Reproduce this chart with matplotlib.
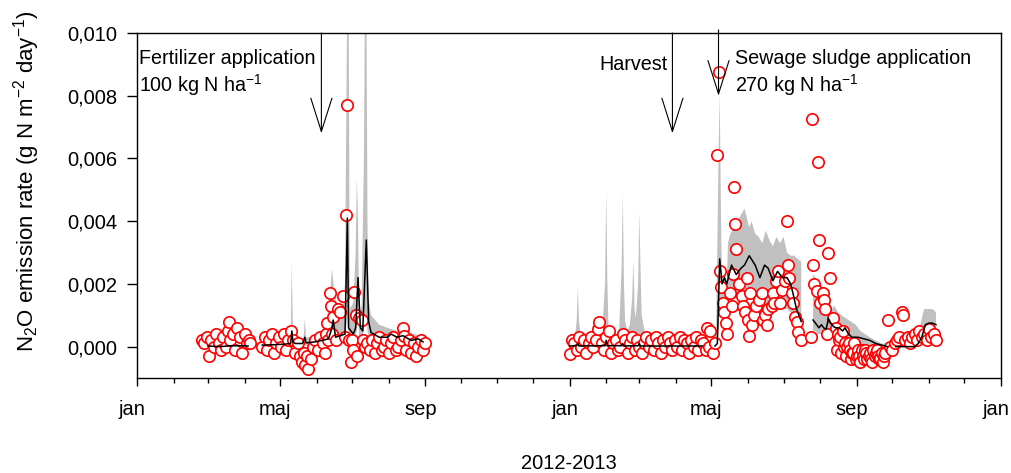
import numpy as np
import matplotlib
matplotlib.use('Agg')
import matplotlib.pyplot as plt
import matplotlib.dates as mdates
from matplotlib.ticker import FuncFormatter
from matplotlib.transforms import ScaledTranslation

plt.rcParams['font.family'] = ['Liberation Sans', 'DejaVu Sans']
plt.rcParams['mathtext.fontset'] = 'custom'
plt.rcParams['mathtext.rm'] = 'Liberation Sans'
plt.rcParams['mathtext.it'] = 'Liberation Sans:italic'
plt.rcParams['mathtext.bf'] = 'Liberation Sans:bold'

# %% Data (day = days since 2012-01-01, flux in g N m-2 day-1)
START = np.datetime64('2012-01-01')

# measured fluxes (red circles)
obs_2012 = [
    (55, 0.0002), (57, 0.0001), (59, 0.0003), (61, -0.0003), (63, 0.0002), (65, 0.0000),
    (67, 0.0004), (69, 0.0001), (71, -0.0001), (73, 0.0003), (75, 0.0000), (77, 0.0005),
    (78, 0.0008), (79, 0.0002), (81, 0.0004), (83, -0.0001), (85, 0.0006), (87, 0.0003),
    (89, -0.0002), (91, 0.0004), (93, 0.0001), (95, 0.0002), (96, 0.0001),
    (106, 0.0000), (108, 0.0003), (110, -0.0001), (112, 0.0002), (114, 0.0004), (116, -0.0002),
    (118, 0.0001), (120, 0.0003), (122, 0.0000), (124, 0.0004), (126, -0.0001), (128, 0.0002),
    (130, 0.0005), (132, 0.0002), (134, -0.0002), (136, 0.0001), (138, -0.0003), (140, -0.0005),
    (141, -0.0002), (142, -0.0006), (144, -0.0003), (145, -0.0007), (147, -0.0004), (149, 0.0000),
    (151, 0.0002), (153, -0.0001), (155, 0.0003), (157, 0.0001), (159, -0.0002), (160, 0.0004),
    (161, 0.00075), (162, 0.0002), (163, 0.0017), (164, 0.0013), (165, 0.0004), (166, 0.00095),
    (168, 0.0002), (170, 0.0012), (172, 0.0011), (174, 0.0016), (176, 0.0003), (177, 0.0042),
    (178, 0.0077), (179, 0.0002), (181, -0.0005), (182, 0.0002), (183, -0.0001), (184, 0.00175),
    (185, 0.0010), (186, -0.0003), (188, 0.0009), (190, 0.00085), (191, 0.0002), (193, 0.0000),
    (195, 0.0001), (197, -0.0001), (199, 0.0002), (201, -0.0002), (203, 0.0001), (205, 0.0003),
    (207, -0.0001), (209, 0.0000), (211, 0.0002), (213, -0.0002), (215, 0.0001), (217, 0.0003),
    (219, -0.0001), (221, 0.0000), (223, 0.0002), (225, 0.0006), (226, 0.00035), (228, -0.0001),
    (230, 0.0002), (232, -0.0002), (234, 0.0001), (236, -0.0003), (238, 0.0000), (240, 0.0002),
    (242, -0.0001), (244, 0.0001),
]

obs_2013 = [
    (366, -0.00025), (368, 0.0002), (370, 0.0001), (372, -0.0001), (374, 0.0003), (376, 0.0000),
    (378, 0.0002), (380, -0.0002), (382, 0.0001), (384, 0.0003), (386, 0.0000), (388, 0.0002),
    (390, 0.00055), (391, 0.00077), (393, 0.0001), (395, -0.0001), (397, 0.0003), (399, 0.0005),
    (401, -0.0002), (403, 0.0001), (405, 0.0002), (407, -0.0001), (409, 0.0000), (411, 0.0004),
    (413, 0.0002), (415, -0.0002), (417, 0.0001), (419, 0.0003), (421, -0.0001), (423, 0.0002),
    (425, 0.0000), (427, -0.0002), (429, 0.0001), (431, 0.0003), (433, 0.0000), (435, 0.0002),
    (437, -0.0001), (439, 0.0003), (441, 0.0001), (443, -0.0002), (445, 0.0002), (447, 0.0000),
    (449, 0.0003), (451, 0.0001), (453, -0.0001), (455, 0.0002), (457, 0.0000), (459, 0.0003),
    (461, -0.0001), (463, 0.0002), (465, 0.0001), (467, -0.0002), (469, 0.0002), (471, 0.0000),
    (473, 0.0003), (475, -0.0001), (477, 0.0002), (479, 0.0001), (481, -0.0001), (482, 0.0006),
    (484, 0.0000), (485, 0.0005), (487, -0.0002), (489, 0.0001),
    (491, 0.0061), (492, 0.00876), (493, 0.0024), (494, 0.0019), (496, 0.0014), (497, 0.0011),
    (498, 0.00076), (499, 0.0004), (502, 0.0017), (503, 0.0013), (504, 0.0023), (505, 0.0051),
    (506, 0.0039), (507, 0.0031), (509, 0.0020), (512, 0.0016), (513, 0.0013), (514, 0.0011),
    (516, 0.0022), (517, 0.00086), (518, 0.00035), (519, 0.0017), (520, 0.0007), (522, 0.0010),
    (524, 0.0013), (526, 0.0015), (529, 0.0017), (530, 0.00086), (531, 0.0010), (533, 0.0007),
    (534, 0.0012), (537, 0.0013), (538, 0.0017), (539, 0.0014), (541, 0.0021), (542, 0.0024),
    (544, 0.0014), (546, 0.0018), (548, 0.0021), (550, 0.0040), (551, 0.0026), (552, 0.0022),
    (554, 0.0017), (555, 0.0014), (557, 0.00096), (558, 0.0008), (559, 0.00048), (562, 0.0002),
    (570, 0.0003), (571, 0.00726), (572, 0.0026), (573, 0.0020), (575, 0.00176), (576, 0.0059),
    (577, 0.0034), (578, 0.0014), (580, 0.0017), (581, 0.0015), (582, 0.0012), (584, 0.0004),
    (585, 0.0030), (586, 0.0022), (589, 0.0009), (591, 0.0006), (592, -0.0001), (593, 0.0004),
    (594, 0.0002), (595, 0.0003), (596, -0.0002), (597, 0.0005), (598, 0.0000), (599, 0.0001),
    (600, -0.0003), (601, 0.0000), (602, 0.0001), (603, -0.0001), (604, -0.0004), (605, -0.0002),
    (606, -0.0002), (607, 0.0001), (608, -0.0004), (609, -0.0003), (610, -0.0001), (611, -0.0003),
    (612, -0.0005), (613, -0.0001), (614, -0.0003), (615, -0.0004), (616, -0.0001), (617, -0.0002),
    (618, -0.0004), (619, -0.0003), (620, -0.0002), (621, -0.0004), (622, -0.0005), (623, -0.0001),
    (624, -0.0003), (625, -0.0002), (626, -0.0001), (627, -0.0003), (628, -0.0004), (629, -0.00035),
    (630, -0.0002), (631, -0.0005), (632, -0.0003), (633, -0.0002), (635, 0.00086), (637, 0.0000),
    (639, -0.0001), (641, 0.0001), (643, 0.0002), (645, 0.0003), (647, 0.0011), (648, 0.0010),
    (650, 0.0002), (652, 0.0003), (654, 0.0001), (656, 0.0003), (658, 0.0004), (660, 0.0002),
    (662, 0.0005), (664, 0.0003), (666, 0.0004), (668, 0.0002), (670, 0.00055), (672, 0.0003),
    (674, 0.0004), (676, 0.0002),
]

# modelled median (black line), nan = gap
model_days = [60, 70, 80, 94, 100,
              106, 115, 125, 130, 131, 132, 134, 140, 142, 143, 150, 157, 162, 165, 166,
              168, 172, 176, 178, 179, 181, 183, 185, 187, 189, 191, 194, 196, 198, 205,
              212, 215, 220, 225, 232, 238, 242, 300,
              366, 372, 373, 374, 396, 397, 398, 410, 411, 412, 424, 425, 426, 440, 460,
              478, 483, 489, 491, 493, 495, 497, 499, 503, 507, 511, 514, 518, 523, 527,
              531, 534, 538, 542, 546, 550, 553, 555, 558, 562, 567,
              572, 575, 577, 579, 581, 583, 585, 587, 589, 591, 594, 597, 599, 602, 605,
              610, 615, 620, 625, 630, 635, 638, 642, 650, 658, 661, 664, 667, 670, 673, 676]
model_vals = [0.00002, 0.0, 0.00003, 0.00002, np.nan,
              0.00005, 0.00006, 0.00008, 0.0001, 0.0005, 0.00015, 0.0001, 0.0001, 0.0003, 0.00012,
              0.00015, 0.0002, 0.00025, 0.0006, 0.00085,
              0.0003, 0.00035, 0.0004, 0.0041, 0.0006, 0.0005, 0.0004, 0.0006, 0.0022, 0.0006,
              0.0005, 0.0034, 0.0008, 0.00045, 0.0003,
              0.0003, 0.0004, 0.0003, 0.00035, 0.0002, 0.00025, 0.00015, np.nan,
              0.00002, 0.00003, 0.0001, 0.00002, 0.00003, 0.0002, 0.00003, 0.00003, 0.0001, 0.00002,
              0.00003, 0.0001, 0.00002, 0.00002, 0.00002,
              0.00002, np.nan, 0.00002, 0.0001, 0.0028, 0.0020, 0.0022, 0.0020, 0.0026, 0.0023,
              0.0025, 0.0026, 0.0029, 0.0026, 0.0022,
              0.0026, 0.0025, 0.0021, 0.0024, 0.0022, 0.0022, 0.0020, 0.0017, 0.0012, 0.0008, np.nan,
              0.00085, 0.0007, 0.0006, 0.0007, 0.0006, 0.00055, 0.0009, 0.00075, 0.00065, 0.0006,
              0.0006, 0.0005, 0.0006, 0.0004, 0.0003,
              0.0003, 0.00025, 0.0002, 0.0001, 0.00005, 0.0, np.nan, 0.0, 0.0, 0.0, 0.0001, 0.0003,
              0.0007, 0.00075, 0.00075, 0.0007]

# model uncertainty band (grey): (day, lower, upper)
band = [
    (106, 0.0, 0.0001), (120, 0.0, 0.00015), (128, 0.0, 0.0002), (130, 0.00005, 0.0002),
    (131, 0.0002, 0.0027), (132, 0.00005, 0.0003), (140, 0.00005, 0.0002), (141, 0.00005, 0.0003),
    (142, 0.0001, 0.0009), (143, 0.00005, 0.0003), (150, 0.00005, 0.0003), (157, 0.0001, 0.0005),
    (161, 0.0001, 0.0008), (163, 0.0002, 0.0015), (165, 0.0003, 0.0025), (167, 0.0002, 0.0017),
    (170, 0.0002, 0.0012), (174, 0.0002, 0.0012), (176, 0.0003, 0.0020), (178, 0.0010, 0.0120),
    (179, 0.0004, 0.0120), (180, 0.0003, 0.0012), (183, 0.0003, 0.0014), (185, 0.0003, 0.0030),
    (186, 0.0005, 0.0054), (187, 0.0010, 0.0040), (188, 0.0003, 0.0010), (190, 0.0003, 0.0013),
    (192, 0.0005, 0.0060), (193, 0.0010, 0.0120), (194, 0.0010, 0.0120), (195, 0.0005, 0.0040),
    (196, 0.0003, 0.0015), (198, 0.0002, 0.0010), (205, 0.0001, 0.0007), (212, 0.0001, 0.0006),
    (220, 0.0001, 0.0005), (228, 0.0001, 0.0005), (235, 0.0001, 0.0004), (242, 0.0, 0.0003),
    (300, np.nan, np.nan),
    (366, 0.0, 0.0001), (370, 0.0, 0.0002), (372, 0.0, 0.0008), (373, 0.0, 0.0019),
    (374, 0.0, 0.0008), (376, 0.0, 0.0002), (385, 0.0, 0.0002), (392, 0.0, 0.0003),
    (394, 0.0, 0.0008), (396, 0.0, 0.0020), (397, 0.0, 0.0050), (398, 0.0, 0.0020),
    (399, 0.0, 0.0005), (401, 0.0, 0.0003), (405, 0.0, 0.0003), (408, 0.0, 0.0006),
    (410, 0.0, 0.0025), (411, 0.0, 0.0049), (412, 0.0, 0.0020), (413, 0.0, 0.0008),
    (415, 0.0, 0.0005), (417, 0.0, 0.0007), (419, 0.0, 0.0016), (420, 0.0, 0.0028),
    (421, 0.0, 0.0012), (422, 0.0, 0.0009), (424, 0.0, 0.0020), (425, 0.0, 0.0043),
    (426, 0.0, 0.0025), (427, 0.0, 0.0010), (428, 0.0, 0.0008), (430, 0.0, 0.0004),
    (440, 0.0, 0.0002), (455, 0.0, 0.0003), (470, 0.0, 0.0002), (480, 0.0, 0.0002),
    (488, 0.0, 0.0002),
    (490, 0.0, 0.0004), (492, 0.0005, 0.0060), (493, 0.0015, 0.0081), (494, 0.0014, 0.0045),
    (495, 0.0013, 0.0018), (497, 0.0014, 0.0024), (499, 0.0013, 0.0020), (500, 0.0014, 0.0033),
    (502, 0.0015, 0.0036), (505, 0.0015, 0.0038), (508, 0.0016, 0.0040), (511, 0.0016, 0.0042),
    (514, 0.0017, 0.0044), (516, 0.0016, 0.0041), (518, 0.0016, 0.0038), (520, 0.0015, 0.0040),
    (523, 0.0015, 0.0036), (526, 0.0014, 0.0035), (529, 0.0014, 0.0033), (532, 0.0014, 0.0037),
    (535, 0.0013, 0.0034), (538, 0.0012, 0.0032), (541, 0.0013, 0.0035), (544, 0.0013, 0.0033),
    (547, 0.0012, 0.0035), (550, 0.0012, 0.0030), (553, 0.0011, 0.0029), (556, 0.0009, 0.0029),
    (559, 0.0006, 0.0028), (562, 0.0004, 0.0027), (567, np.nan, np.nan),
    (572, 0.0005, 0.0023), (574, 0.0005, 0.0022), (576, 0.0004, 0.0019), (578, 0.0004, 0.0015),
    (580, 0.0004, 0.0016), (582, 0.0003, 0.0012), (584, 0.0003, 0.0014), (586, 0.0005, 0.0015),
    (588, 0.0004, 0.0012), (590, 0.0003, 0.0013), (593, 0.0003, 0.0011), (596, 0.0002, 0.0010),
    (600, 0.0002, 0.0009), (604, 0.0001, 0.0008), (608, 0.0001, 0.0007), (612, 0.0, 0.0005),
    (616, 0.0, 0.0004), (620, 0.0, 0.0003), (625, 0.0, 0.0002), (630, 0.0, 0.0001),
    (635, 0.0, 0.0001), (638, np.nan, np.nan), (642, 0.0, 0.0001), (650, 0.0, 0.0002),
    (658, 0.0, 0.0003), (661, 0.0, 0.0004), (664, 0.0001, 0.0009), (666, 0.0003, 0.0012),
    (670, 0.0004, 0.0012), (673, 0.0004, 0.0012), (676, 0.0004, 0.0011),
]

# management events: (day, arrow tip, arrow start)
event_days = [156, 453, 492]
event_tips = [0.0068, 0.0068, 0.0080]
event_tops = [0.0100, 0.0100, 0.0101]

month_names = {1: 'jan', 5: 'maj', 9: 'sep'}


def to_dates(days):
    return START + np.array(days, dtype=int).astype('timedelta64[D]')


# %% Plot
fig = plt.figure(figsize=(10.12, 4.73), dpi=100)
ax = fig.add_axes([137 / 1012, 1 - 378 / 473, 864 / 1012, 345 / 473])

b = np.array(band, dtype=float)
ax.fill_between(to_dates(b[:, 0]), b[:, 1], b[:, 2], color='#c0c0c0', lw=0, zorder=1)

for obs in (obs_2012, obs_2013):
    o = np.array(obs)
    ax.plot(to_dates(o[:, 0]), o[:, 1], 'o', ls='none', ms=8.2, mfc='white',
            mec='red', mew=1.2, zorder=2)

ax.plot(to_dates(model_days), model_vals, color='black', lw=1.1, zorder=3)

# arrows
for d, tip, top in zip(event_days, event_tips, event_tops):
    x = to_dates([d])[0]
    ax.annotate('', xy=(x, tip), xytext=(x, top),
                arrowprops=dict(arrowstyle='->,head_length=1.2,head_width=0.38',
                                color='black', lw=0.8, shrinkA=0, shrinkB=0,
                                mutation_scale=20),
                annotation_clip=False, zorder=4)

ax.text(to_dates([2])[0], 0.0095, 'Fertilizer application\n100 kg N ha$^{-1}$',
        fontsize=14.2, ha='left', va='top')
ax.text(to_dates([449])[0], 0.00900, 'Harvest', fontsize=14.2, ha='right', va='center')
ax.text(to_dates([506])[0], 0.0095, 'Sewage sludge application\n270 kg N ha$^{-1}$',
        fontsize=14.2, ha='left', va='top')

# axes
ax.set_xlim(np.datetime64('2012-01-01'), np.datetime64('2014-01-01'))
ax.set_ylim(-0.001, 0.010)
ax.xaxis.set_major_locator(mdates.MonthLocator(bymonth=[1, 5, 9]))
ax.xaxis.set_minor_locator(mdates.MonthLocator())
ax.xaxis.set_major_formatter(FuncFormatter(lambda v, p: month_names[mdates.num2date(v).month]))
ax.set_yticks(np.arange(0, 0.0101, 0.002))
ax.yaxis.set_major_formatter(FuncFormatter(lambda v, p: f'{v:.3f}'.replace('.', ',')))

ax.tick_params(axis='x', which='major', length=6, width=1, labelsize=14.5, pad=10)
ax.tick_params(axis='x', which='minor', length=3.5, width=1)
ax.tick_params(axis='y', length=7, width=1, labelsize=14.5, pad=7)
for s in ax.spines.values():
    s.set_linewidth(1.0)

# month labels sit slightly left of their ticks in the original
shift = ScaledTranslation(-5 / 100, 0, fig.dpi_scale_trans)
for tick in ax.xaxis.get_major_ticks():
    tick.label1.set_transform(tick.label1.get_transform() + shift)

ax.set_ylabel('N$_2$O emission rate (g N m$^{-2}$ day$^{-1}$)', fontsize=16)
ax.yaxis.set_label_coords(-0.11, 0.57)
ax.set_xlabel('2012-2013', fontsize=14.5)
ax.xaxis.set_label_coords(0.5, -0.22)

fig.savefig('out.png', dpi=100)
